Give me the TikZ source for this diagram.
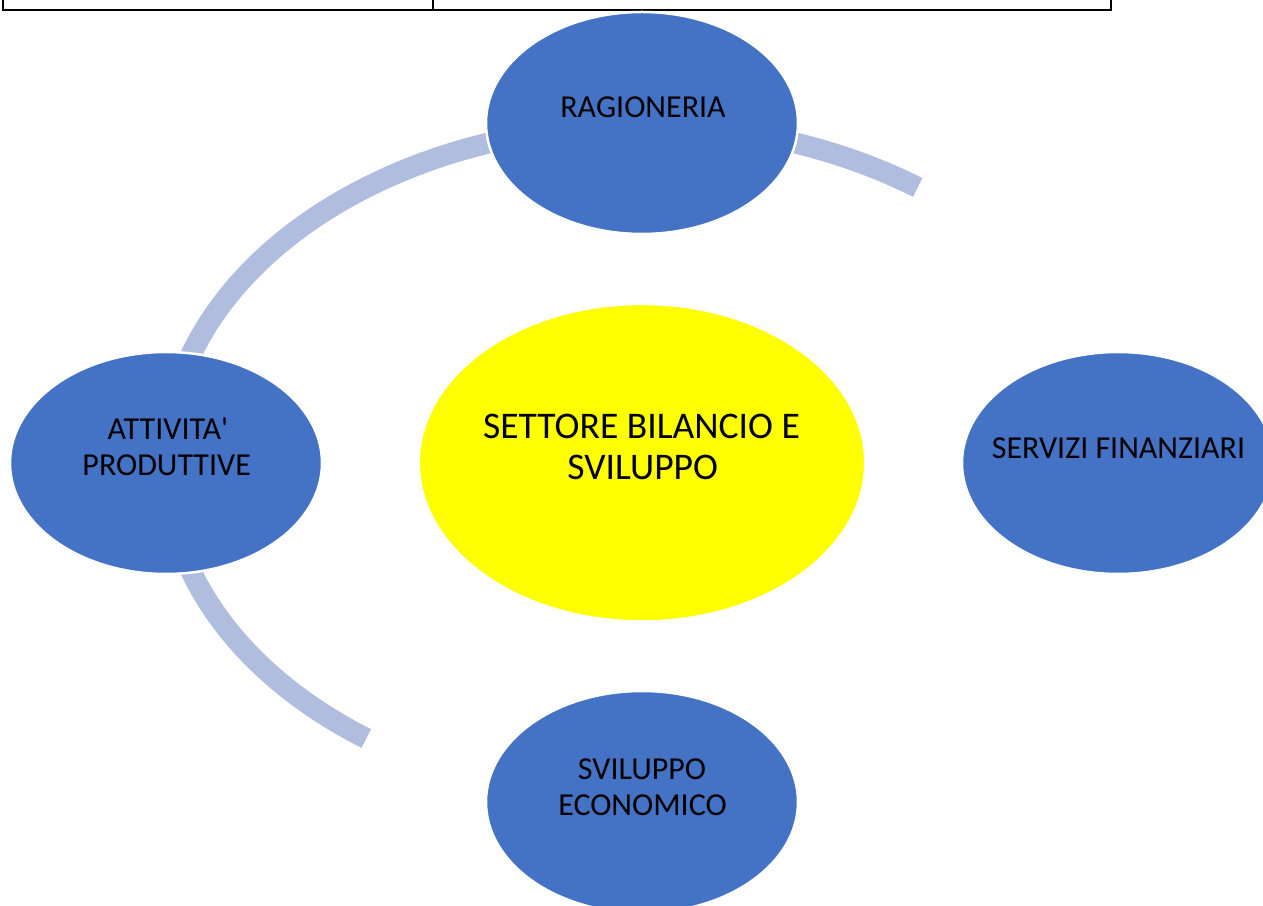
\documentclass[tikz,border=0pt]{standalone}
\usepackage{fontspec}
\newfontfamily\carlito{Carlito}
\usetikzlibrary{shapes.geometric}
\definecolor{nodeblue}{HTML}{4472C4}
\definecolor{ringblue}{HTML}{B0BDDF}
\definecolor{hubyellow}{HTML}{FFFF00}
\begin{document}
\begin{tikzpicture}[x=1pt,y=1pt,
  sat/.style={ellipse, fill=nodeblue, draw=white, line width=2.5pt, minimum width=312pt, minimum height=222pt, inner sep=0pt},
  hub/.style={ellipse, fill=hubyellow, draw=white, line width=2pt, minimum width=446pt, minimum height=317pt, inner sep=0pt},
  lbl/.style={font=\carlito\fontsize{32}{36}\selectfont, anchor=base, inner sep=0pt, text=black},
  hublbl/.style={font=\carlito\fontsize{37.6}{41}\selectfont, anchor=base, inner sep=0pt, text=black},
  ring/.style={draw=ringblue, line width=21pt},
  tableline/.style={draw=black, line width=2pt}
]
\useasboundingbox (0,0) rectangle (1263,905);
\clip (0,0) rectangle (1263,905);

% table fragment at top
\draw[tableline] (3,906) -- (3,895) -- (1111,895) -- (1111,906);
\draw[tableline] (433,906) -- (433,895);

% ring arcs
\coordinate (ringc) at (642,442);
\draw[ring] ([shift={(95:476pt and 338pt)}]ringc) arc[start angle=95, end angle=175, x radius=476pt, y radius=338pt];
\draw[ring] ([shift={(85:476pt and 338pt)}]ringc) arc[start angle=85, end angle=54.6, x radius=476pt, y radius=338pt];
\draw[ring] ([shift={(185:476pt and 338pt)}]ringc) arc[start angle=185, end angle=234.6, x radius=476pt, y radius=338pt];

% hub
\node[hub] (hub) at (642,442.3) {};

% satellites
\node[sat] (rag) at (642,782) {};
\node[sat] (att) at (166,442) {};
\node[sat] (ser) at (1118,442) {};
\node[sat] (svi) at (642,103) {};

% labels
\node[hublbl] (hubT1) at (641.5,466) {SETTORE BILANCIO E};
\node[hublbl] (hubT2) at (642.7,425) {SVILUPPO};
\node[lbl] (ragT) at (643,787.3) {RAGIONERIA};
\node[lbl] (serT) at (1118.5,446.7) {SERVIZI FINANZIARI};
\node[lbl] (attT1) at (168,465.7) {ATTIVITA\textquotesingle};
\node[lbl] (attT2) at (166.7,429.3) {PRODUTTIVE};
\node[lbl] (sviT1) at (642,125.7) {SVILUPPO};
\node[lbl] (sviT2) at (642.5,89.3) {ECONOMICO};
\end{tikzpicture}
\end{document}
